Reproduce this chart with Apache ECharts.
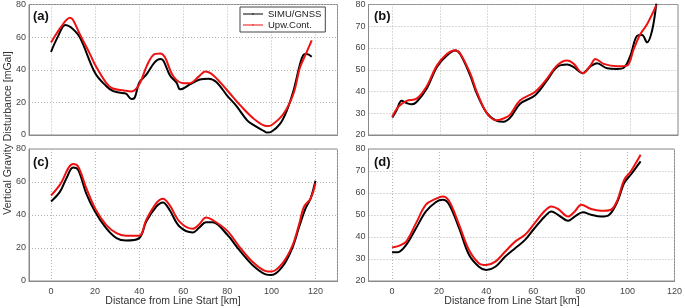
<!DOCTYPE html>
<html><head><meta charset="utf-8">
<script src="https://cdn.jsdelivr.net/npm/echarts@6/dist/echarts.min.js"></script>
<style>html,body{margin:0;padding:0;background:#fff}#c{width:685px;height:308px}</style>
</head><body><div id="c"></div>
<script>
// ---- Data (km along line, mGal) ----
const aSimuKm = [0,3,6.5,9,13,20,25,28,31,34,36.5,38,40,43.5,47,49.5,51,54,57,58.5,60,63,67.5,71.5,75,80,84,89,92,96.5,98,100,104,107,110,113,114.5,116,118.3];
const aSimuVal = [51,60,67.5,66,60,38,30,27,26,25.3,22,23,32,37.5,44.5,46.6,45.5,36.5,32,28,28.5,31,34,34.5,32.5,24,18,9,6,2.5,1.5,2,7,15,27,43.5,49,49.6,48];
const aUpwKm = [0,4.8,8.6,10,13,17.7,20,25,28,33,36.5,40,43.5,46.5,49.5,51.7,55.5,60,63,67,70,73.7,80,86,92,98,100,105.5,110,113,115.3,118.3];
const aUpwVal = [56.7,66.8,71.9,70.5,62,49.6,43,32,28.5,27.3,26.7,31,42.5,49.2,50,47.6,36,31.8,31.8,35.8,38.9,36.5,27.3,18,10,5.5,6,13,25.3,41.5,48.6,58];

const bSimuKm = [0,1.8,3.9,6,8.1,10.2,14.4,18.7,22.9,26.4,28.5,32.7,35.5,39.8,43.9,46.7,49.5,53.7,59.9,64.9,69.1,73.4,76.2,80,83.2,86,90.2,94.4,97.2,100,102.8,104.9,107,109.1,110.9];
const bSimuVal = [28,31.4,35.7,34.7,34.1,35.2,41.3,51.2,56.5,58.8,57.2,47.4,39,29.9,26.5,26.1,28,34.4,38.2,45,51.2,52.4,51.2,48.4,51.5,53,50.7,50.4,50.9,56.5,65.6,66,62.6,67.9,80.5];
const bUpwKm = [0,2.5,6,10.2,14.4,18.7,22.9,26.4,28.5,32.7,35.5,39.8,43.9,46.7,49.5,53.7,59.9,64.9,69.1,73.4,76.2,80,83.2,85.3,88.8,94.4,98.6,101.4,104.2,107,110.9];
const bUpwVal = [28.4,32.9,35.7,36.7,42.3,51.9,57.2,59,57.5,48.4,39.8,29.9,26.8,27.6,29.4,36,39.8,45.8,51.9,54.2,52.7,48.4,51.9,55,52.7,51.6,51.9,59.5,66.4,70.9,79.7];

const cSimuKm = [0,4,7,10,12.3,16,20,25,29.7,34,40,43.2,47.7,50.8,53.8,58.3,64.3,67.3,70.3,73.3,80,85.4,91.4,97.4,100,105,109.5,112.5,115.5,117.8,120];
const cSimuVal = [48.2,54,62.3,68.8,67.4,53,42,32,26,24.5,26,36,45,47.6,43,33,29.4,32.4,35.6,35.6,28,18.8,9.7,4,3.6,8.7,20,32.4,44,50,60.7];
const cUpwKm = [0,4,10,12.3,16,20,25,29.7,34,40,43.2,47.7,50.8,53.8,58.3,64.3,67.3,70.3,73.3,80,85.4,91.4,97.4,100,105,109.5,112.5,114.8,117.8,120];
const cUpwVal = [51.8,58.3,70.9,69.4,56.3,44,34,29,27.5,27.5,37,47,49.8,46,36,31.6,34.4,38.5,37,30.4,20.9,11.7,6,5.7,10.7,21.3,34,45,50,59.3];

const dSimuKm = [0,2.5,6,10.2,14.4,18.7,21.5,24.3,28.5,32.7,36.9,40,43.9,48.1,52.3,56.5,60,64.9,67.7,70.5,74.8,77.6,81.1,84.6,88.8,92.3,95.8,98.6,101.4,105.6];
const dSimuVal = [33.1,33.1,36.4,44,51.6,55.9,56.9,54.7,44,31.9,26.5,25,26.5,31.1,34.9,38.7,43.3,49.3,51.6,50.1,47.4,49.3,51.2,50.1,49.3,50.1,56.2,64.5,68.3,74.4];
const dUpwKm = [0,3.2,6,10.2,14.4,18.7,21.5,24.3,28.5,32.7,36.9,40,43.9,48.1,52.3,56.5,60,64.9,67.7,70.5,74.8,77.6,80.4,84.6,88.8,93,95.8,98.6,101.4,105.6];
const dUpwVal = [35.2,36.1,37.9,46.3,54.7,57.4,58.4,56.2,45.5,34.1,28.1,27.3,28.8,33.4,37.9,41,45.5,51.9,53.9,52.8,49.3,51.6,54.7,52.7,51.9,52.4,56.9,66,69.8,77.4];

const panelLabels = ['(a)','(b)','(c)','(d)'];
const seriesNames = ['SIMU/GNSS','Upw.Cont.'];
const xTitle = 'Distance from Line Start [km]';
const yTitle = 'Vertical Gravity Disturbance [mGal]';

// ---- Chart ----
const zip = (k, v) => k.map((x, i) => [x, v[i]]);
const FONT = 'Liberation Sans, Arial, sans-serif';
const grids = [
  {left: 29, top: 3, width: 308.5, height: 132},
  {left: 368.5, top: 3, width: 309.5, height: 132},
  {left: 29, top: 149, width: 308.5, height: 132},
  {left: 368.5, top: 149, width: 309.5, height: 132}
].map(g => Object.assign(g, {show: true, borderColor: '#8a8a8a', borderWidth: 1, backgroundColor: '#fff'}));

const split = {show: true, lineStyle: {type: [1, 2], color: '#b5b5b5', width: 1}};
const xRanges = [[-10,130],[-10,120],[-10,130],[-10,120]];
const xAxes = xRanges.map((r, i) => ({
  type: 'value', gridIndex: i, min: r[0], max: r[1], splitNumber: 7,
  axisLine: {show: true, onZero: false, lineStyle: {color: '#8a8a8a'}},
  axisTick: {show: false},
  splitLine: split,
  axisLabel: {show: i >= 2, fontSize: 9, color: '#444', fontFamily: FONT, margin: 6,
    formatter: v => (v % 20 === 0 ? String(v) : '')},
  showMinLabel: false
}));
const yR = [[0,80,20],[20,80,10],[0,80,20],[20,80,10]];
const yAxes = yR.map((r, i) => ({
  type: 'value', gridIndex: i, min: r[0], max: r[1], interval: r[2],
  axisLine: {show: true, onZero: false, lineStyle: {color: '#8a8a8a'}},
  axisTick: {show: false},
  splitLine: split,
  axisLabel: {fontSize: 9, color: '#444', fontFamily: FONT, margin: 3}
}));

const sets = [
  [zip(aSimuKm, aSimuVal), zip(aUpwKm, aUpwVal)],
  [zip(bSimuKm, bSimuVal), zip(bUpwKm, bUpwVal)],
  [zip(cSimuKm, cSimuVal), zip(cUpwKm, cUpwVal)],
  [zip(dSimuKm, dSimuVal), zip(dUpwKm, dUpwVal)]
];
const colors = ['#000000', '#ee1111'];
const series = [];
sets.forEach((pair, i) => {
  pair.forEach((data, j) => {
    series.push({
      type: 'line', name: seriesNames[j], xAxisIndex: i, yAxisIndex: i,
      data: data, smooth: 0.35, symbol: 'circle', symbolSize: 3, showSymbol: false,
      lineStyle: {color: colors[j], width: 2}, itemStyle: {color: colors[j]},
      emphasis: {disabled: true}, z: 2 + j, animation: false
    });
  });
});

const labelPos = [[33, 16], [374, 16], [33, 162], [374, 162]];
const graphic = panelLabels.map((t, i) => ({
  type: 'text', x: labelPos[i][0], y: labelPos[i][1], z: 10,
  style: {text: t, font: 'bold 13px ' + FONT, fill: '#111', textVerticalAlign: 'middle'}
}));
graphic.push({type: 'text', x: 8, y: 133, rotation: Math.PI / 2, z: 10,
  style: {text: yTitle, font: '10.5px ' + FONT, fill: '#333', textAlign: 'center', textVerticalAlign: 'middle'}});
graphic.push({type: 'text', x: 173, y: 301, z: 10,
  style: {text: xTitle, font: '10.5px ' + FONT, fill: '#333', textAlign: 'center', textVerticalAlign: 'middle'}});
graphic.push({type: 'text', x: 512, y: 301, z: 10,
  style: {text: xTitle, font: '10.5px ' + FONT, fill: '#333', textAlign: 'center', textVerticalAlign: 'middle'}});

const legendIcon = 'path://M0,4.6L20,4.6L20,5.4L0,5.4Z M9.2,4.2L10.8,4.2L10.8,5.8L9.2,5.8Z';
const chart = echarts.init(document.getElementById('c'), null, {renderer: 'canvas'});
chart.setOption({
  animation: false,
  grid: grids, xAxis: xAxes, yAxis: yAxes, series: series, graphic: graphic,
  legend: {
    data: seriesNames.map(n => ({name: n, icon: legendIcon})),
    orient: 'vertical', left: 240, top: 7,
    padding: [2, 4, 2, 3], itemGap: 1, itemWidth: 20, itemHeight: 9,
    borderColor: '#444', borderWidth: 1, backgroundColor: '#fff',
    textStyle: {fontSize: 9.5, color: '#222', fontFamily: FONT},
    selectedMode: false
  }
});
</script></body></html>
